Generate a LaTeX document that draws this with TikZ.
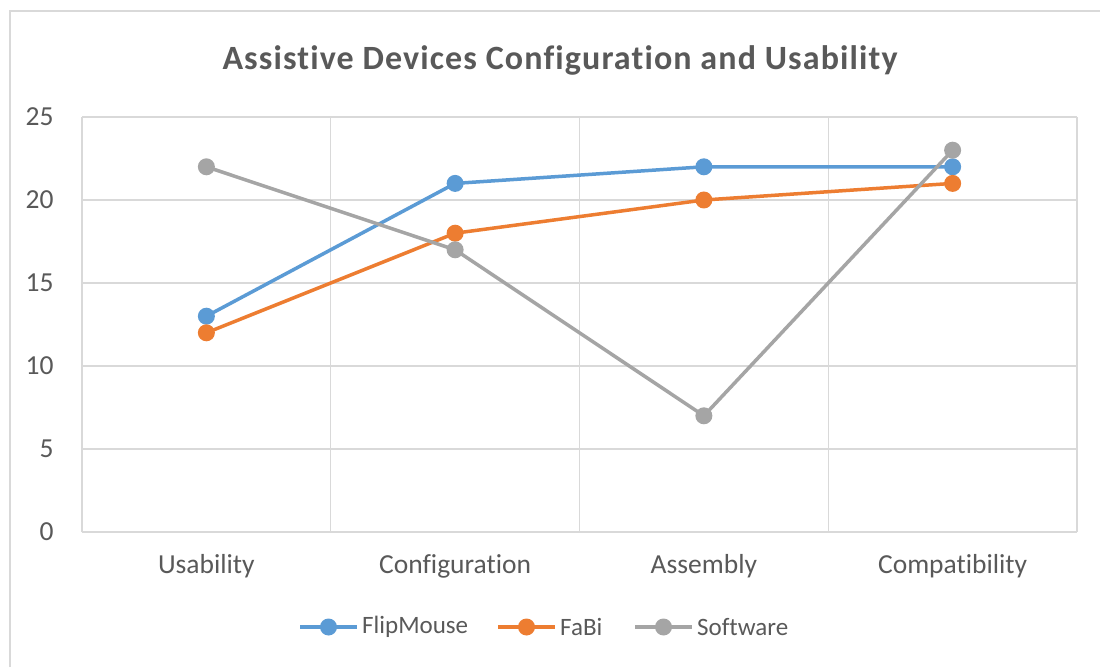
\documentclass[tikz,border=0pt]{standalone}
\usepackage{fontspec}
\usetikzlibrary{calc}
\setmainfont{Carlito}[Ligatures={NoCommon}]
\definecolor{flipblue}{HTML}{5B9BD5}
\definecolor{fabiorange}{HTML}{ED7D31}
\definecolor{softgray}{HTML}{A5A5A5}
\definecolor{gridgray}{HTML}{D9D9D9}
\definecolor{textgray}{HTML}{595959}
\tikzset{
	serline/.style={draw=#1, line width=3.5pt, line join=round},
	datadot/.style={circle, fill=#1, inner sep=0pt, minimum size=17pt},
	gridline/.style={draw=gridgray, line width=1.3pt},
	ticklabel/.style={text=textgray, font=\fontsize{27.5}{32}\selectfont},
	legendlabel/.style={text=textgray, font=\fontsize{25}{30}\selectfont, anchor=west, inner sep=0pt}
}
\begin{document}
\begin{tikzpicture}[x=1pt,y=1pt]
		\useasboundingbox (0,0) rectangle (1100,667);
		\fill[white] (0,0) rectangle (1100,667);
		\draw[gridgray, line width=2.2pt] (10,0) -- (10,656) -- (1100,656);
		\node[text=textgray, font=\fontsize{34}{40}\selectfont\bfseries\addfontfeatures{LetterSpace=3.3}] (title) at (560,607) {Assistive Devices Configuration and Usability};
		\begin{scope}[shift={(82,135)}, x=248.75pt, y=16.6pt]
			\foreach \y in {0,5,...,25} {
				\draw[gridline] (0,\y) -- (4,\y);
				\node[ticklabel, anchor=east] (tick\y) at (-0.1,\y) {\y};
			}
			\foreach \x in {0,...,4}
				\draw[gridline] (\x,0) -- (\x,25);
			\foreach \i/\cat in {1/Usability, 2/Configuration, 3/Assembly, 4/Compatibility}
				\node[ticklabel] (cat\i) at (\i-0.5,-2.05) {\cat};
			\foreach \s/\col/\a/\b/\c/\d in {flip/flipblue/13/21/22/22, fabi/fabiorange/12/18/20/21, soft/softgray/22/17/7/23} {
				\coordinate (\s1) at (0.5,\a);
				\coordinate (\s2) at (1.5,\b);
				\coordinate (\s3) at (2.5,\c);
				\coordinate (\s4) at (3.5,\d);
				\draw[serline=\col] (\s1) -- (\s2) -- (\s3) -- (\s4);
				\foreach \i in {1,...,4}
					\node[datadot=\col] (\s dot\i) at (\s\i) {};
			}
		\end{scope}
		\foreach \s/\lx/\col/\txt in {flip/300/flipblue/FlipMouse, fabi/498/fabiorange/FaBi, soft/635/softgray/Software} {
			\coordinate (\s a) at (\lx,40);
			\coordinate (\s b) at (\lx+57,40);
			\draw[serline=\col] (\s a) -- (\s b);
			\node[datadot=\col] (\s key) at ($(\s a)!0.5!(\s b)$) {};
			\node[legendlabel] (\s txt) at ($(\s b)+(5,0)$) {\txt};
		}
	\end{tikzpicture}
\end{document}
